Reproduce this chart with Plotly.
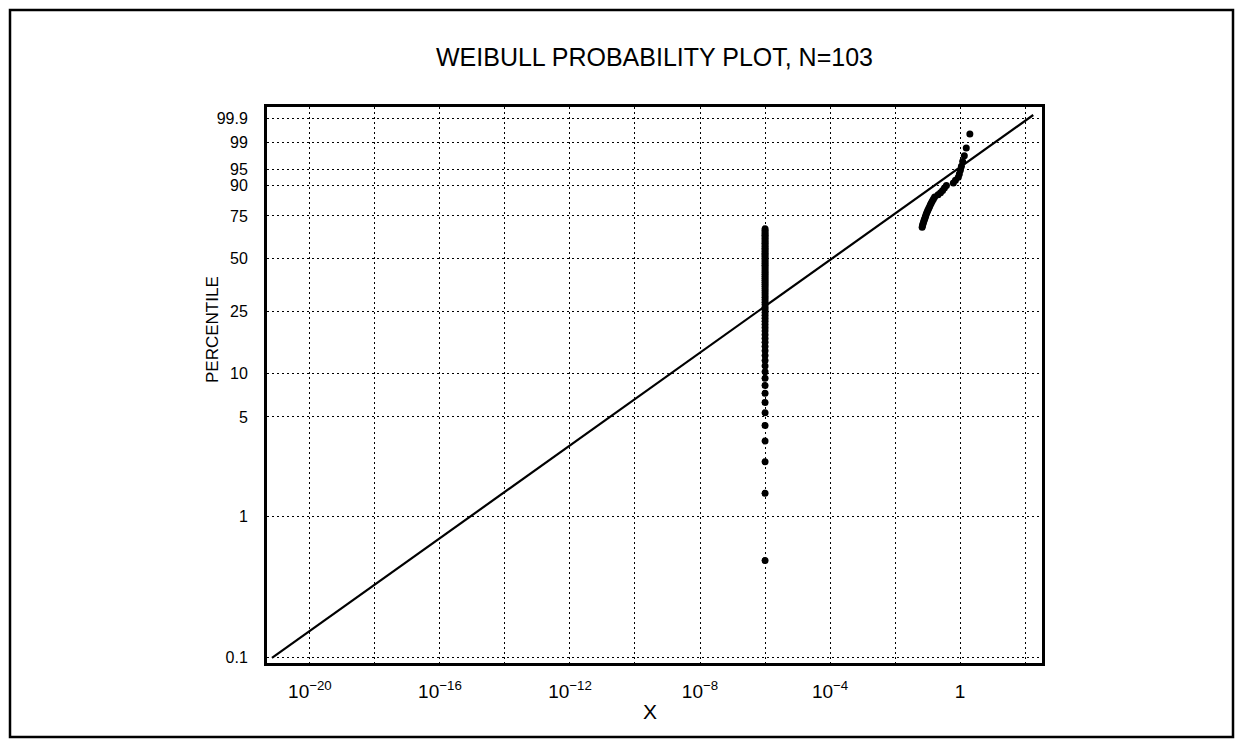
import numpy as np
import plotly.graph_objects as go

# ---------------- data ----------------
N = 103
# observations recorded at the lower detection value (vertical column at 1e-6)
low_values = [
    1e-6, 1e-6, 1e-6, 1e-6, 1e-6, 1e-6, 1e-6, 1e-6, 1e-6, 1e-6,
    1e-6, 1e-6, 1e-6, 1e-6, 1e-6, 1e-6, 1e-6, 1e-6, 1e-6, 1e-6,
    1e-6, 1e-6, 1e-6, 1e-6, 1e-6, 1e-6, 1e-6, 1e-6, 1e-6, 1e-6,
    1e-6, 1e-6, 1e-6, 1e-6, 1e-6, 1e-6, 1e-6, 1e-6, 1e-6, 1e-6,
    1e-6, 1e-6, 1e-6, 1e-6, 1e-6, 1e-6, 1e-6, 1e-6, 1e-6, 1e-6,
    1e-6, 1e-6, 1e-6, 1e-6, 1e-6, 1e-6, 1e-6, 1e-6, 1e-6, 1e-6,
    1e-6, 1e-6, 1e-6, 1e-6, 1e-6, 1e-6, 1e-6, 1e-6, 1e-6, 1e-6,
]
# remaining sorted observations
upper_values = [
    0.068, 0.070, 0.072, 0.075, 0.078, 0.081, 0.085, 0.088, 0.092,
    0.097, 0.102, 0.108, 0.115, 0.122, 0.130, 0.140, 0.152, 0.165,
    0.21, 0.25, 0.29, 0.33, 0.38,
    0.62, 0.72,
    0.88, 0.95, 1.02, 1.10, 1.20, 1.35, 1.55,
    2.0,
]
x_values = low_values + upper_values

# fitted Weibull line (end points)
line_x = [6.8e-22, 178.0]
line_pct = [0.0985, 99.93]

# axis ticks
y_tick_pct = [0.1, 1, 5, 10, 25, 50, 75, 90, 95, 99, 99.9]
y_tick_text = ["0.1", "1", "5", "10", "25", "50", "75", "90", "95", "99", "99.9"]
x_tick_exp = [-20, -18, -16, -14, -12, -10, -8, -6, -4, -2, 0, 2]
x_tick_text = ["10<sup>−20</sup>", "", "10<sup>−16</sup>", "", "10<sup>−12</sup>", "",
               "10<sup>−8</sup>", "", "10<sup>−4</sup>", "", "1", ""]


def weibull_scale(pct):
    p = np.asarray(pct, dtype=float) / 100.0
    return np.log(-np.log(1.0 - p))


rank = np.arange(1, N + 1)
plot_pct = (rank - 0.5) / N * 100.0

FONT = "Liberation Sans, Arial, sans-serif"

fig = go.Figure()
fig.add_trace(go.Scatter(
    x=line_x, y=weibull_scale(line_pct), mode="lines",
    line=dict(color="black", width=2.2), showlegend=False, hoverinfo="skip"))
fig.add_trace(go.Scatter(
    x=x_values, y=weibull_scale(plot_pct), mode="markers",
    marker=dict(color="black", size=7, line=dict(width=0)), showlegend=False))

W, H = 1244, 749
L, R, T, B = 267, 1042, 107, 663

fig.update_layout(
    width=W, height=H,
    margin=dict(l=L, r=W - R, t=T, b=H - B),
    paper_bgcolor="white", plot_bgcolor="white",
    font=dict(family=FONT, color="black"),
    title=dict(text="WEIBULL PROBABILITY PLOT, N=103", x=0.5, xref="paper",
               xanchor="center", y=1 - 57 / H, yanchor="middle",
               font=dict(family=FONT, size=25, color="black")),
    showlegend=False,
)

fig.update_xaxes(
    type="log", range=[-21.32, 2.52],
    tickvals=[10.0 ** e for e in x_tick_exp], ticktext=x_tick_text,
    showgrid=True, gridcolor="black", gridwidth=1.3, griddash="2px,3px",
    showline=True, linecolor="black", linewidth=3, mirror=True,
    ticks="", tickfont=dict(family=FONT, size=19, color="black"),
    ticklabelstandoff=9, zeroline=False,
)
fig.update_yaxes(
    range=[-7.005, 2.114],
    tickvals=weibull_scale(y_tick_pct), ticktext=y_tick_text,
    showgrid=True, gridcolor="black", gridwidth=1.3, griddash="2px,3px",
    showline=True, linecolor="black", linewidth=3, mirror=True,
    ticks="", tickfont=dict(family=FONT, size=16, color="black"),
    ticklabelstandoff=13, zeroline=False,
)

pw, ph = R - L, B - T


def px_x(px):
    return (px - L) / pw


def px_y(py):
    return (B - py) / ph


fig.add_annotation(text="X", x=px_x(650), y=px_y(712), xref="paper", yref="paper",
                   xanchor="center", yanchor="middle",
                   showarrow=False, font=dict(family=FONT, size=21, color="black"))
fig.add_annotation(text="PERCENTILE", x=px_x(212), y=px_y(330), xref="paper", yref="paper",
                   xanchor="center", yanchor="middle",
                   showarrow=False, textangle=-90,
                   font=dict(family=FONT, size=17, color="black"))

# outer page frame
fig.add_shape(type="rect", xref="paper", yref="paper",
              x0=px_x(10), x1=px_x(1233), y0=px_y(737), y1=px_y(10),
              line=dict(color="black", width=2.5), fillcolor="rgba(0,0,0,0)")

fig.write_html("out.html")
